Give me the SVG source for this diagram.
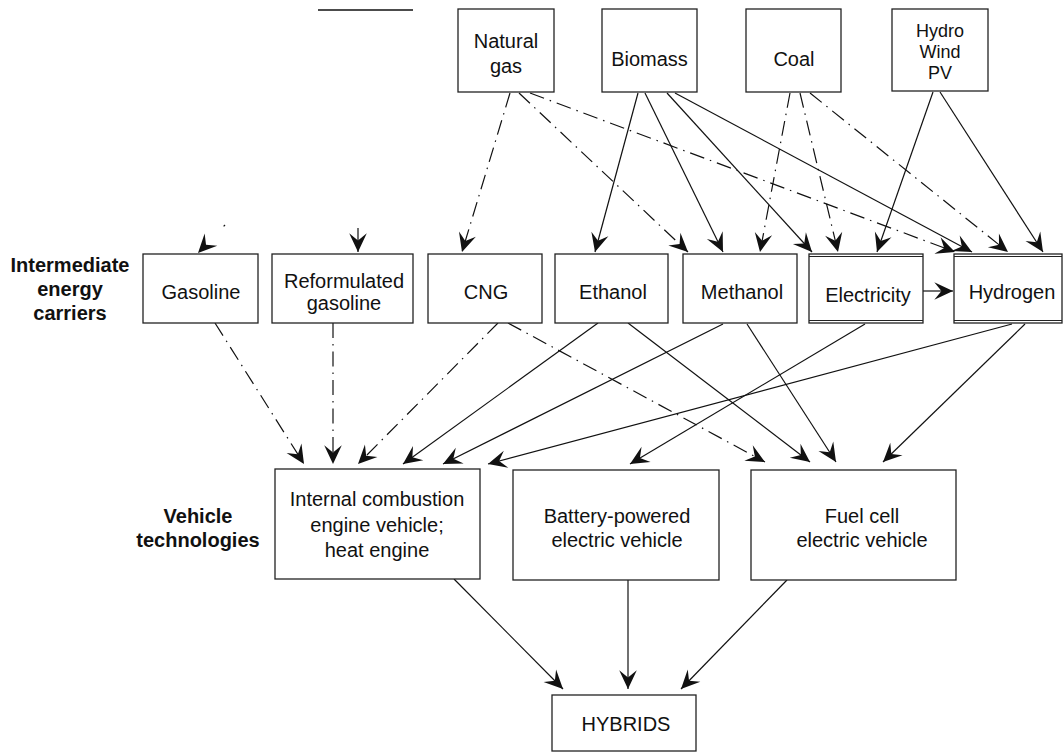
<svg xmlns="http://www.w3.org/2000/svg" width="1063" height="752" viewBox="0 0 1063 752">
<style>
.box{fill:#fff;stroke:#222;stroke-width:1.3}
.t{font-family:"Liberation Sans",Arial,sans-serif;font-size:20px;fill:#111;text-anchor:middle}
.h{font-family:"Liberation Sans",Arial,sans-serif;font-size:18px;fill:#111;text-anchor:middle}
.b{font-family:"Liberation Sans",Arial,sans-serif;font-size:20px;font-weight:bold;fill:#111;text-anchor:middle}
.s{fill:none;stroke:#111;stroke-width:1.2;marker-end:url(#ah)}
.d{fill:none;stroke:#111;stroke-width:1.2;stroke-dasharray:15 6 1.5 6;marker-end:url(#ah)}
</style>
<defs>
<marker id="ah" markerUnits="userSpaceOnUse" markerWidth="22" markerHeight="22" viewBox="-19 -10 20 20" refX="0" refY="0" orient="auto">
<path d="M0,0 L-17,-8 L-10.5,0 L-17,8 Z" fill="#111"/>
</marker>
</defs>
<rect width="1063" height="752" fill="#fff"/>
<line x1="318" y1="10" x2="413" y2="10" stroke="#111" stroke-width="1.5"/>

<g id="connectors">
<path class="d" d="M510,93 L462,252"/>
<path class="d" d="M519,93 L688,252"/>
<path class="d" d="M530,93 L955,252"/>
<path class="s" d="M638,93 L595,252"/>
<path class="s" d="M645,93 L723,252"/>
<path class="s" d="M667,93 L812,252"/>
<path class="s" d="M675,93 L972,252"/>
<path class="d" d="M790,93 L760,252"/>
<path class="d" d="M800,93 L838,252"/>
<path class="d" d="M810,93 L1008,252"/>
<path class="s" d="M933,92 L877,252"/>
<path class="s" d="M940,92 L1043,252"/>
<path fill="none" stroke="#111" stroke-width="1.2" stroke-dasharray="2 40" marker-end="url(#ah)" d="M225,225 L198,253"/>
<path class="s" d="M358,228 L358,252"/>
<path class="s" d="M923,291 L953,291"/>

<path class="d" d="M215,323 L304,464"/>
<path class="d" d="M333,323 L333,464"/>
<path class="d" d="M498,323 L358,464"/>
<path class="s" d="M598,323 L403,464"/>
<path class="s" d="M723,324 L443,464"/>
<path class="s" d="M1012,324 L488,464"/>
<path class="d" d="M508,323 L765,462"/>
<path class="s" d="M628,323 L810,462"/>
<path class="s" d="M747,324 L836,462"/>
<path class="s" d="M865,324 L630,464"/>
<path class="s" d="M1025,324 L883,462"/>

<path class="s" d="M454,579 L563,689"/>
<path class="s" d="M628,580 L628,689"/>
<path class="s" d="M787,580 L681,689"/>
</g>

<g id="natural-gas"><rect class="box" x="458" y="9" width="96" height="83"/><text class="t" x="506" y="48">Natural</text><text class="t" x="506" y="73">gas</text></g>
<g id="biomass"><rect class="box" x="602" y="9" width="95" height="83"/><text class="t" x="649.5" y="66">Biomass</text></g>
<g id="coal"><rect class="box" x="746" y="9" width="95" height="83"/><text class="t" x="794" y="66">Coal</text></g>
<g id="hydro"><rect class="box" x="892" y="9" width="96" height="82"/><text class="h" x="940" y="37">Hydro</text><text class="h" x="940" y="58">Wind</text><text class="h" x="940" y="79">PV</text></g>

<g id="label-intermediate"><text class="b" x="70" y="272">Intermediate</text><text class="b" x="70" y="296">energy</text><text class="b" x="70" y="320">carriers</text></g>

<g id="gasoline"><rect class="box" x="143" y="254" width="115" height="69"/><text class="t" x="201" y="299">Gasoline</text></g>
<g id="reformulated"><rect class="box" x="272" y="254" width="141" height="69"/><text class="t" x="344" y="288">Reformulated</text><text class="t" x="344" y="310">gasoline</text></g>
<g id="cng"><rect class="box" x="428" y="254" width="114" height="69"/><text class="t" x="486" y="299">CNG</text></g>
<g id="ethanol"><rect class="box" x="555" y="254" width="113" height="69" stroke-width="2"/><text class="t" x="613" y="299">Ethanol</text></g>
<g id="methanol"><rect class="box" x="683" y="254" width="114" height="69"/><text class="t" x="742" y="299">Methanol</text></g>
<g id="electricity"><rect class="box" x="809" y="254" width="114" height="69"/><line x1="809" y1="256.5" x2="923" y2="256.5" stroke="#222" stroke-width="1"/><line x1="809" y1="320.5" x2="923" y2="320.5" stroke="#222" stroke-width="1"/><text class="t" x="868" y="302">Electricity</text></g>
<g id="hydrogen"><rect class="box" x="954" y="254" width="108" height="69"/><line x1="954" y1="256.5" x2="1062" y2="256.5" stroke="#222" stroke-width="1"/><line x1="954" y1="320.5" x2="1062" y2="320.5" stroke="#222" stroke-width="1"/><text class="t" x="1012" y="299">Hydrogen</text></g>

<g id="label-vehicle"><text class="b" x="198" y="523">Vehicle</text><text class="b" x="198" y="547">technologies</text></g>

<g id="ice"><rect class="box" x="275" y="469" width="205" height="110"/><text class="t" x="377" y="506">Internal combustion</text><text class="t" x="377" y="532">engine vehicle;</text><text class="t" x="377" y="557">heat engine</text></g>
<g id="battery"><rect class="box" x="513" y="470" width="206" height="110"/><text class="t" x="617" y="523">Battery-powered</text><text class="t" x="617" y="547">electric vehicle</text></g>
<g id="fuelcell"><rect class="box" x="751" y="470" width="205" height="110"/><text class="t" x="862" y="523">Fuel cell</text><text class="t" x="862" y="547">electric vehicle</text></g>

<g id="hybrids"><rect class="box" x="552" y="695" width="144" height="56"/><text class="t" x="626" y="731">HYBRIDS</text></g>
</svg>
